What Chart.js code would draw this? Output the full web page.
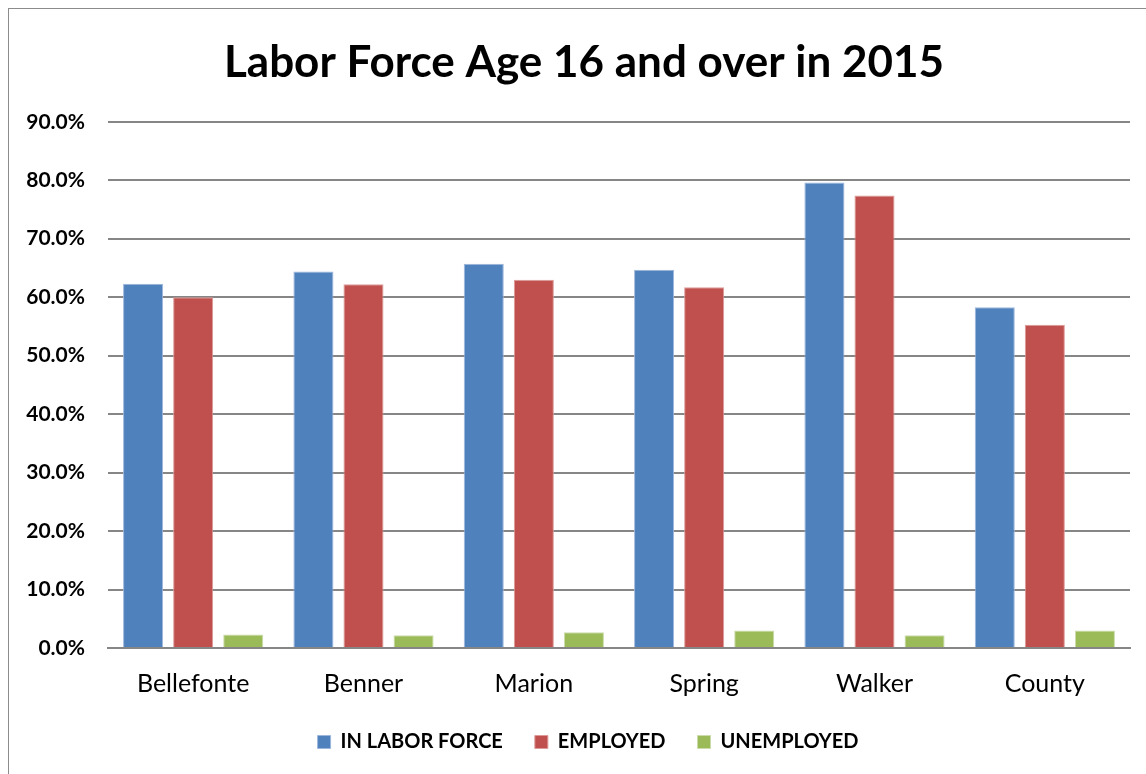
<!DOCTYPE html>
<html>
<head>
<meta charset="utf-8">
<script src="https://cdn.jsdelivr.net/npm/chart.js@4.4.1/dist/chart.umd.min.js"></script>
<style>
  html, body { margin: 0; padding: 0; background: #fff; overflow: hidden; }
  #frame { position: absolute; left: 8px; top: 8px; width: 1160px; height: 790px; border: 1px solid #8c8c8c; }
  #wrap { position: absolute; left: 0; top: 0; width: 1146px; height: 774px; }
</style>
</head>
<body>
<div id="frame"></div>
<div id="wrap"><canvas id="laborChart"></canvas></div>
<script>
// データ (%)
const categories = ['Bellefonte', 'Benner', 'Marion', 'Spring', 'Walker', 'County'];
const inLaborForce = [62.3, 64.4, 65.7, 64.7, 79.6, 58.3];
const employed = [60.0, 62.2, 63.0, 61.7, 77.4, 55.3];
const unemployed = [2.3, 2.2, 2.7, 3.0, 2.2, 3.0];
const yTicks = [0, 10, 20, 30, 40, 50, 60, 70, 80, 90];

const FONT = 'Lato, "Open Sans", sans-serif';

// タイトルと凡例を枠の中央に寄せる
const centerShift = {
    id: 'centerShift',
    afterLayout: function (chart) {
        if (chart.titleBlock) chart.titleBlock.left += 30;
        if (chart.legend) chart.legend.left += 38;
    }
};

function initLaborChart() {
    const ctx = document.getElementById('laborChart');
    if (!ctx) return;

    return new Chart(ctx.getContext('2d'), {
        type: 'bar',
        data: {
            labels: categories,
            datasets: [
                { label: 'IN LABOR FORCE', data: inLaborForce, backgroundColor: '#4F81BD', borderColor: '#9db7dc', borderWidth: 1 },
                { label: 'EMPLOYED', data: employed, backgroundColor: '#C0504D', borderColor: '#dc9a98', borderWidth: 1 },
                { label: 'UNEMPLOYED', data: unemployed, backgroundColor: '#9BBB59', borderColor: '#cbdcaa', borderWidth: 1 }
            ]
        },
        plugins: [centerShift],
        options: {
            responsive: true,
            maintainAspectRatio: false,
            animation: false,
            categoryPercentage: 0.882,
            barPercentage: 0.8,
            layout: { padding: { left: 8, right: 16, top: 0, bottom: 12 } },
            plugins: {
                title: {
                    display: true,
                    text: 'Labor Force Age 16 and over in 2015',
                    color: '#000',
                    font: { family: FONT, size: 44, weight: 'bold' },
                    padding: { top: 36, bottom: 33 }
                },
                legend: {
                    position: 'bottom',
                    labels: {
                        color: '#000',
                        font: { family: FONT, size: 20, weight: 'bold' },
                        boxWidth: 13,
                        boxHeight: 13,
                        padding: 32
                    }
                },
                tooltip: { enabled: false }
            },
            scales: {
                x: {
                    afterFit: function (scale) { scale.height = 52; },
                    grid: { display: false },
                    border: { display: true, color: '#868686', width: 2 },
                    ticks: {
                        color: '#000',
                        padding: 13,
                        font: { family: FONT, size: 25 }
                    }
                },
                y: {
                    min: 0,
                    max: 90,
                    afterFit: function (scale) { scale.width = 100; },
                    afterBuildTicks: function (scale) {
                        scale.ticks = yTicks.map(function (v) { return { value: v }; });
                    },
                    grid: { color: '#868686', lineWidth: 2, drawTicks: false },
                    border: { display: false },
                    ticks: {
                        color: '#000',
                        padding: 23,
                        font: { family: FONT, size: 21, weight: 'bold' },
                        callback: function (v) { return v.toFixed(1) + '%'; }
                    }
                }
            }
        }
    });
}

initLaborChart();
</script>
</body>
</html>
